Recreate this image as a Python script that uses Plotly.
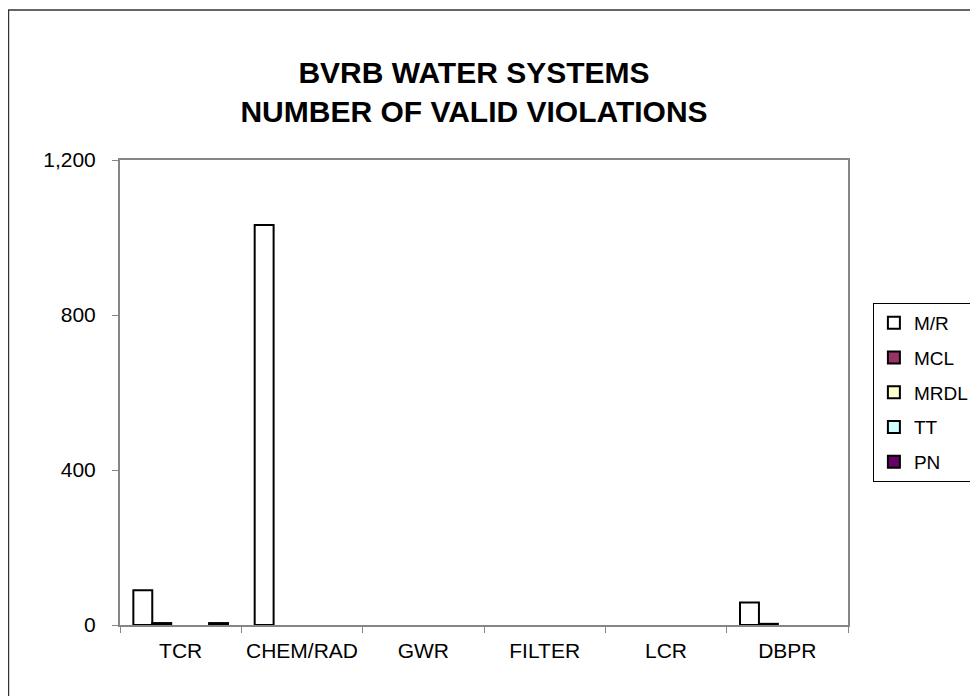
import plotly.graph_objects as go

categories = ["TCR", "CHEM/RAD", "GWR", "FILTER", "LCR", "DBPR"]
series_names = ["M/R", "MCL", "MRDL", "TT", "PN"]
mr = [90, 1032, 0, 0, 0, 58]
mcl = [5, 0, 0, 0, 0, 3]
mrdl = [0, 0, 0, 0, 0, 0]
tt = [0, 0, 0, 0, 0, 0]
pn = [5, 0, 0, 0, 0, 0]
colors = ["#FFFFFF", "#993366", "#FFFFCC", "#CCFFFF", "#660066"]
y_ticks = [0, 400, 800, 1200]

# page body adds an 8px margin, so positions below are shifted by it
OFF = 8
W, H = 978, 696
L, T = 120 - OFF, 160 - OFF
pw, ph = 731, 465
R, B = W - L - pw, H - T - ph


def px_x(x):
    return (x - OFF - L) / pw


def px_y(y):
    return (T + ph - (y - OFF)) / ph


fig = go.Figure()
for i, (name, vals) in enumerate(zip(series_names, [mr, mcl, mrdl, tt, pn])):
    # zero counts leave no visible bar (no outline on the axis)
    fig.add_trace(go.Bar(
        x=categories, y=[v if v else None for v in vals], name=name, legendgroup=name,
        marker=dict(color=colors[i], line=dict(color="black", width=2)),
    ))

axis_gray = "#868686"
fig.update_layout(
    width=W, height=H,
    margin=dict(l=L, r=R, t=T, b=B),
    paper_bgcolor="white", plot_bgcolor="white",
    font=dict(family="Liberation Sans, Arial", color="black", size=21),
    barmode="group", bargap=0.22, bargroupgap=0,
    showlegend=True,
    title=dict(
        text="<b>BVRB WATER SYSTEMS<br>NUMBER OF VALID VIOLATIONS</b>",
        x=(474 - OFF) / W, xanchor="center", y=1 - (83 - OFF) / H, yanchor="middle",
        font=dict(size=30),
    ),
    xaxis=dict(
        showline=True, linecolor=axis_gray, linewidth=2, mirror=True,
        ticks="outside", tickson="boundaries", ticklen=6, tickcolor=axis_gray,
        showgrid=False, ticklabelstandoff=6,
    ),
    yaxis=dict(
        range=[0, 1200], tickvals=y_ticks, tickformat=",d",
        showline=True, linecolor=axis_gray, linewidth=2, mirror=True,
        ticks="outside", ticklen=6, tickcolor=axis_gray,
        showgrid=False, zeroline=False, ticklabelstandoff=12,
    ),
    legend=dict(
        x=px_x(876), xanchor="left", y=px_y(303), yanchor="top",
        bordercolor="black", borderwidth=1, bgcolor="white",
        tracegroupgap=7, font=dict(size=19), itemwidth=30,
    ),
    shapes=[dict(
        type="rect", xref="paper", yref="paper",
        x0=px_x(8), x1=px_x(1000),
        y0=px_y(710), y1=px_y(10),
        line=dict(color="#333333", width=1.5),
    )],
)

fig.write_html("out.html")
